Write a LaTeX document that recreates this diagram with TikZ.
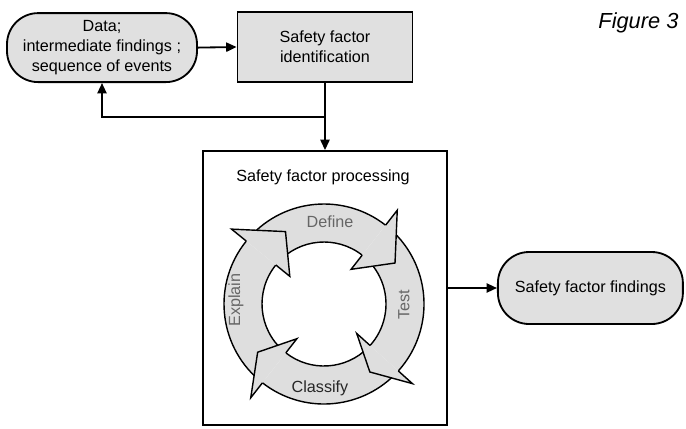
\documentclass[tikz,border=0pt]{standalone}
\usepackage{fontspec}
\setmainfont{Liberation Sans}
\usetikzlibrary{arrows.meta}

\begin{document}
\begin{tikzpicture}[
    line width=1.3pt,
    >={Triangle[length=2.6mm,width=2.3mm]},
    every node/.style={font=\fontsize{11.5}{14}\selectfont},
    box/.style={draw, fill=black!12, align=center, inner sep=1pt},
    pill/.style={box, rounded corners=0.78cm},
    segment/.style={fill=black!13, draw, line width=1pt, line join=miter},
    tag/.style={text=black!60, inner sep=0pt},
  ]
  \useasboundingbox (0,0) rectangle (17.15,-10.7);

  % Boxes
  \node[pill, minimum width=4.75cm, minimum height=1.725cm] (data) at (2.55,-1.19)
    {Data;\\intermediate findings ;\\sequence of events};
  \node[box, minimum width=4.375cm, minimum height=1.75cm] (ident) at (8.125,-1.175)
    {Safety factor\\identification};
  \node[draw, minimum width=6.1cm, minimum height=6.85cm] (proc) at (8.125,-7.2) {};
  \node (title) at (8.075,-4.425) {Safety factor processing};
  \node[pill, minimum width=4.625cm, minimum height=1.8cm] (find) at (14.76,-7.2)
    {Safety factor findings};
  \node[anchor=base east, font=\itshape\fontsize{15.5}{18}\selectfont] (fig) at (17.1,-0.7)
    {Figure 3};

  % Flow
  \coordinate (split) at (8.125,-2.925);
  \draw[->] (data.east) -- (ident.west);
  \draw[->] (ident.south) -- (proc.north);
  \draw[->] (split) -| (data.south);
  \draw[->] (proc.east) -- (find.west);

  % Cycle (tail, base of head, tip)
  \begin{scope}[shift={(8.1,-7.6)}]
    \foreach \tail/\base/\tip in {229/141/118, 138/52/30, 49/-42/-56, -45/-128/-144}
      \path[segment] (\base:1.55) arc[start angle=\base, end angle=\tail, radius=1.55]
        -- (\tail:2.5) arc[start angle=\tail, end angle=\base, radius=2.5];
    \foreach \tail/\base/\tip in {229/141/118, 138/52/30, 49/-42/-56, -45/-128/-144}
      \path[segment] (\base:2.5) -- (\base:2.975) -- (\tip:2.05) -- (\base:1.1) -- (\base:1.55);
  \end{scope}
  \node[tag] (define) at (8.25,-5.55) {Define};
  \node[tag, rotate=90] (test) at (10.1,-7.625) {Test};
  \node[tag, text=black!85] (classify) at (8.0,-9.7) {Classify};
  \node[tag, rotate=90] (explain) at (5.9,-7.5) {Explain};
\end{tikzpicture}
\end{document}
